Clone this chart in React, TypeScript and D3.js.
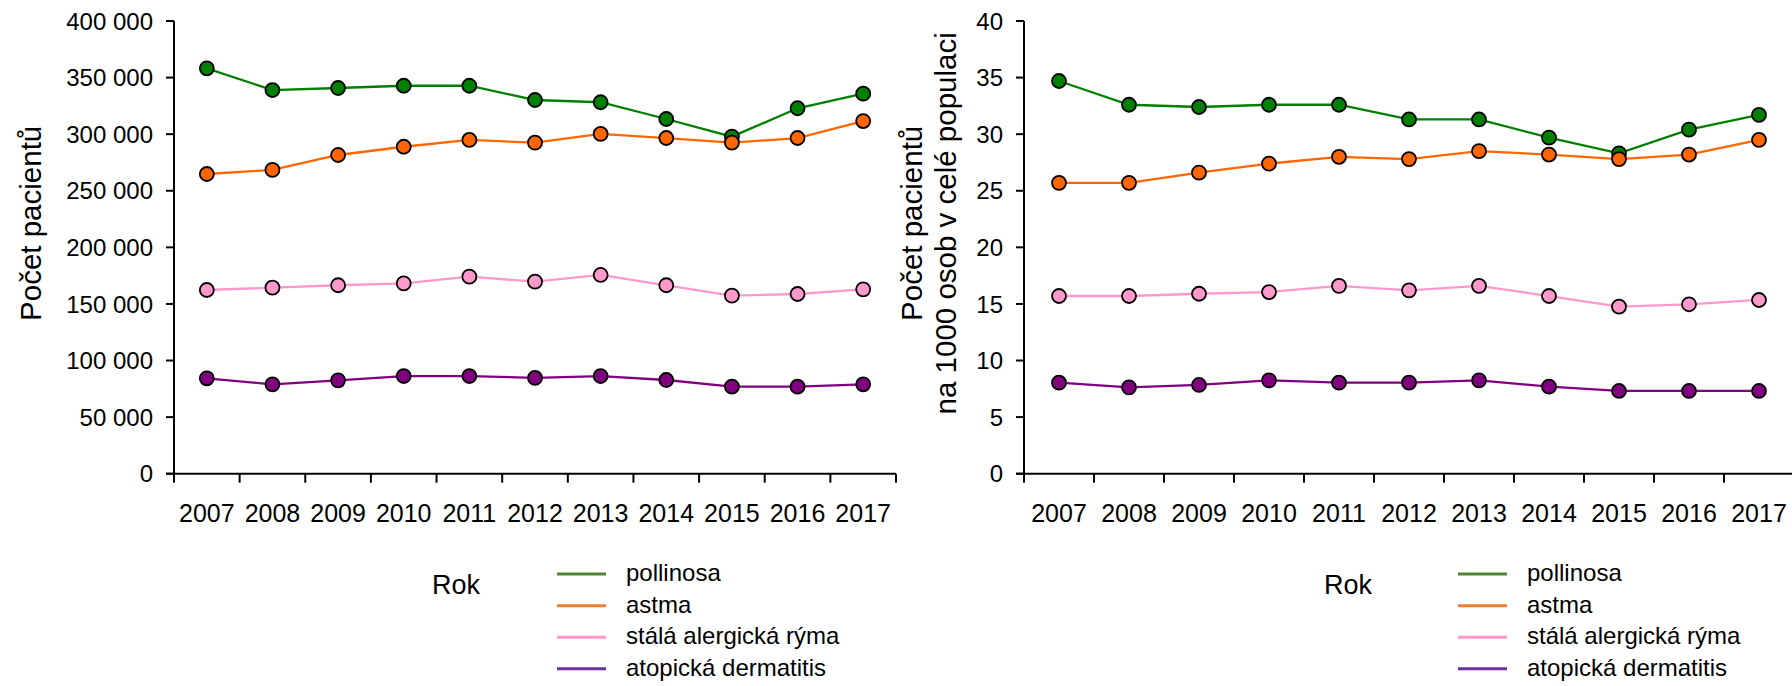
import React from "react";
import * as d3 from "d3";

const years = ["2007", "2008", "2009", "2010", "2011", "2012", "2013", "2014", "2015", "2016", "2017"];

const seriesNames = ["pollinosa", "astma", "stálá alergická rýma", "atopická dermatitis"];
const lineColors = ["#008000", "#FF6600", "#FF99CC", "#800080"];
const legendColors = ["#538135", "#ED7D31", "#FF99CC", "#7030A0"];

// Absolute counts
const countPollinosa = [358200, 339000, 340800, 342800, 342800, 330200, 328200, 313400, 297800, 322900, 335800];
const countAstma = [264800, 268400, 281600, 288900, 294900, 292500, 300200, 296600, 292500, 296600, 311600];
const countRyma = [162300, 164400, 166500, 168200, 174100, 169700, 175600, 166500, 157300, 158800, 162900];
const countDermatitis = [84300, 79000, 82500, 86300, 86300, 84600, 86300, 82800, 76900, 76900, 79000];

// Per 1000 inhabitants
const ratePollinosa = [34.7, 32.6, 32.4, 32.6, 32.6, 31.3, 31.3, 29.7, 28.3, 30.4, 31.7];
const rateAstma = [25.7, 25.7, 26.6, 27.4, 28.0, 27.8, 28.5, 28.2, 27.8, 28.2, 29.5];
const rateRyma = [15.7, 15.7, 15.9, 16.05, 16.6, 16.2, 16.6, 15.7, 14.76, 14.97, 15.35];
const rateDermatitis = [8.04, 7.63, 7.84, 8.25, 8.04, 8.04, 8.25, 7.69, 7.31, 7.31, 7.31];

const leftTicks = [0, 50000, 100000, 150000, 200000, 250000, 300000, 350000, 400000];
const rightTicks = [0, 5, 10, 15, 20, 25, 30, 35, 40];

const FONT = "'Liberation Sans', Arial, sans-serif";
const locale = d3.formatLocale({ decimal: ",", thousands: " ", grouping: [3], currency: ["", ""] });
const fmt = locale.format(",d");

type PanelProps = {
  x0: number;
  x1: number;
  yMax: number;
  ticks: number[];
  series: number[][];
  labelRight: number;
  titleLines: string[];
  titleX: number[];
  legendX: { rok: number; line0: number; line1: number; text: number };
};

function Panel({ x0, x1, yMax, ticks, series, labelRight, titleLines, titleX, legendX }: PanelProps) {
  const yTop = 21;
  const yBottom = 473.7;
  const x = d3.scaleBand<string>().domain(years).range([x0, x1]).padding(0);
  const y = d3.scaleLinear().domain([0, yMax]).range([yBottom, yTop]);
  const cx = (yr: string) => (x(yr) as number) + x.bandwidth() / 2;
  const line = d3
    .line<number>()
    .x((_, i) => cx(years[i]))
    .y((d) => y(d));
  const boundaries = years.map((yr) => x(yr) as number).concat([x1]);
  const legendYs = [574, 605.7, 637.3, 668.7];

  return (
    <g>
      {/* y axis */}
      <line x1={x0} x2={x0} y1={yTop} y2={yBottom} stroke="#000" strokeWidth={2} />
      {ticks.map((t) => (
        <g key={t}>
          <line x1={x0 - 8} x2={x0} y1={y(t)} y2={y(t)} stroke="#000" strokeWidth={2} />
          <text x={labelRight} y={y(t)} dy="0.36em" textAnchor="end" fontSize={24} fontFamily={FONT} fill="#000">
            {yMax > 1000 ? fmt(t) : String(t)}
          </text>
        </g>
      ))}
      {/* x axis */}
      <line x1={x0 - 8} x2={x1} y1={yBottom} y2={yBottom} stroke="#000" strokeWidth={2} />
      {boundaries.map((b, i) => (
        <line key={i} x1={b} x2={b} y1={yBottom} y2={yBottom + 9} stroke="#000" strokeWidth={2} />
      ))}
      {years.map((yr) => (
        <text key={yr} x={cx(yr)} y={521.5} textAnchor="middle" fontSize={25} fontFamily={FONT} fill="#000">
          {yr}
        </text>
      ))}
      {/* y title */}
      {titleLines.map((t, i) => (
        <text
          key={i}
          transform={`translate(${titleX[i]},${(yTop + yBottom) / 2 - 24}) rotate(-90)`}
          textAnchor="middle"
          fontSize={29.5}
          fontFamily={FONT}
          fill="#000"
        >
          {t}
        </text>
      ))}
      {/* series */}
      {series.map((s, si) => (
        <g key={si}>
          <path d={line(s) || ""} fill="none" stroke={lineColors[si]} strokeWidth={2.3} />
          {s.map((v, i) => (
            <circle key={i} cx={cx(years[i])} cy={y(v)} r={7} fill={lineColors[si]} stroke="#000" strokeWidth={1.8} />
          ))}
        </g>
      ))}
      {/* legend */}
      <text x={legendX.rok} y={594} fontSize={27} fontFamily={FONT} fill="#000">
        Rok
      </text>
      {seriesNames.map((n, i) => (
        <g key={n}>
          <line x1={legendX.line0} x2={legendX.line1} y1={legendYs[i]} y2={legendYs[i]} stroke={legendColors[i]} strokeWidth={3} />
          <text x={legendX.text} y={legendYs[i] + 7} fontSize={24} fontFamily={FONT} fill="#000">
            {n}
          </text>
        </g>
      ))}
    </g>
  );
}

export default function App() {
  return (
    <svg
      width={1792}
      height={686}
      style={{ position: "absolute", left: 0, top: 0, background: "#fff" }}
    >
      <rect x={0} y={0} width={1792} height={686} fill="#fff" />
      <Panel
        x0={174}
        x1={896}
        yMax={400000}
        ticks={leftTicks}
        series={[countPollinosa, countAstma, countRyma, countDermatitis]}
        labelRight={153}
        titleLines={["Počet pacientů"]}
        titleX={[41]}
        legendX={{ rok: 432, line0: 557, line1: 606, text: 626 }}
      />
      <Panel
        x0={1024}
        x1={1794}
        yMax={40}
        ticks={rightTicks}
        series={[ratePollinosa, rateAstma, rateRyma, rateDermatitis]}
        labelRight={1003}
        titleLines={["Počet pacientů", "na 1000 osob v celé populaci"]}
        titleX={[922, 956]}
        legendX={{ rok: 1324, line0: 1458, line1: 1507, text: 1527 }}
      />
    </svg>
  );
}
